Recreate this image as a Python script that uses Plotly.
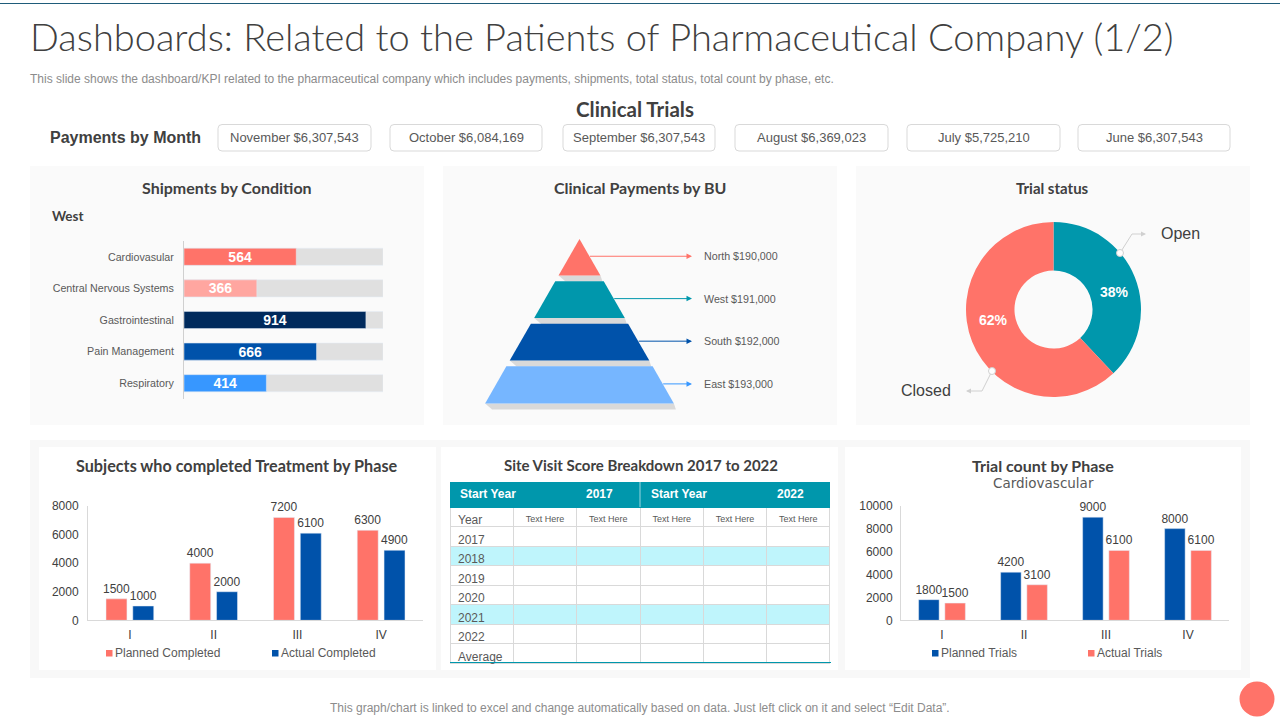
import plotly.graph_objects as go

W, H = 1280, 720

# ---------- data ----------
TITLE = "Dashboards: Related to the Patients of Pharmaceutical Company (1/2)"
SUBTITLE = "This slide shows the dashboard/KPI related to the pharmaceutical company which includes payments, shipments, total status, total count by phase, etc."
FOOTER = "This graph/chart is linked to excel and change automatically based on data. Just left click on it and select “Edit Data”."
pay_months = ["November", "October", "September", "August", "July", "June"]
pay_values = ["$6,307,543", "$6,084,169", "$6,307,543", "$6,369,023", "$5,725,210", "$6,307,543"]

cond_names = ["Cardiovasular", "Central Nervous Systems", "Gastrointestinal", "Pain Management", "Respiratory"]
cond_values = [564, 366, 914, 666, 414]
cond_track = [1000, 1000, 1000, 1000, 1000]
cond_colors = ["#FF7369", "#FFA6A0", "#002A5C", "#0052AA", "#3797FF"]

bu_names = ["North", "West", "South", "East"]
bu_values = [190000, 191000, 192000, 193000]
bu_colors = ["#FF7369", "#0097AC", "#0052AA", "#76B6FF"]
bu_arrow = ["#FF7369", "#0097AC", "#0052AA", "#3797FF"]

status_names = ["Open", "Closed"]
status_values = [38, 62]

phases = ["I", "II", "III", "IV"]
planned_completed = [1500, 4000, 7200, 6300]
actual_completed = [1000, 2000, 6100, 4900]
planned_trials = [1800, 4200, 9000, 8000]
actual_trials = [1500, 3100, 6100, 6100]

table_head = ["Start Year", "2017", "Start Year", "2022"]
table_years = ["Year", "2017", "2018", "2019", "2020", "2021", "2022", "Average"]
table_note = "Text Here"

CORAL, BLUE, TEAL = "#FF7369", "#0052AA", "#0097AC"
INK, GREY = "#404040", "#595959"
BODY = "Liberation Sans"
HEAD = "Lato"


def X(p):
    return p / W


def Y(p):
    return 1 - p / H


shapes, notes = [], []


def box(x0, y0, x1, y1, color, line=None):
    shapes.append(dict(type="rect", xref="paper", yref="paper", x0=X(x0), x1=X(x1), y0=Y(y0), y1=Y(y1),
                       fillcolor=color, line=dict(width=1 if line else 0, color=line or color), layer="below"))


def label(x, y, text, size=12, color=INK, anchor="center", font=BODY, bold=False, weight=None):
    f = dict(size=size, color=color, family=font)
    if bold:
        f["weight"] = "bold"
    if weight:
        f["weight"] = weight
    if anchor == "left":
        x -= 2
    notes.append(dict(x=X(x), y=Y(y), xref="paper", yref="paper", text=text, showarrow=False,
                      xanchor=anchor, yanchor="middle", font=f))


def rounded(x0, y0, x1, y1, r=4):
    a, b, c, d = X(x0), X(x1), Y(y0), Y(y1)
    rx, ry = r / W, r / H
    p = (f"M{a+rx},{c} L{b-rx},{c} Q{b},{c} {b},{c-ry} L{b},{d+ry} Q{b},{d} {b-rx},{d} "
         f"L{a+rx},{d} Q{a},{d} {a},{d+ry} L{a},{c-ry} Q{a},{c} {a+rx},{c} Z")
    shapes.append(dict(type="path", path=p, xref="paper", yref="paper", fillcolor="#FFFFFF",
                       line=dict(width=1, color="#D9D9D9"), layer="below"))


def polyline(pts, color="#D0D0D0"):
    p = "M" + " L".join(f"{X(a)},{Y(b)}" for a, b in pts)
    shapes.append(dict(type="path", path=p, xref="paper", yref="paper", line=dict(width=1, color=color), layer="above"))


def arrow_end(x, y, dx, color="#D0D0D0"):
    notes.append(dict(x=X(x), y=Y(y), xref="paper", yref="paper", ax=dx, ay=0, axref="pixel", ayref="pixel",
                      text="", showarrow=True, arrowhead=2, arrowsize=1, arrowwidth=1, arrowcolor=color))


def dot(x, y, r=3.5):
    shapes.append(dict(type="circle", xref="paper", yref="paper", x0=X(x - r), x1=X(x + r), y0=Y(y + r), y1=Y(y - r),
                       fillcolor="#FFFFFF", line=dict(width=1, color="#D0D0D0"), layer="above"))


fig = go.Figure()

# ---------- page furniture ----------
shapes.append(dict(type="line", xref="paper", yref="paper", x0=X(0), x1=X(1280), y0=Y(3.5), y1=Y(3.5),
                   line=dict(color="#1F5C7A", width=1), layer="below"))
for x0 in (30, 443, 856):
    box(x0, 166, x0 + 394, 425, "#FAFAFA")
box(30, 440, 1250, 678, "#F8F8F8")
for x0, x1 in ((39, 436), (441, 838), (845, 1241)):
    box(x0, 447, x1, 670, "#FFFFFF")

label(30, 36, TITLE, size=38, color=INK, anchor="left", font=HEAD, weight=300)
label(30, 79, SUBTITLE, size=12, color="#8C8C8C", anchor="left")
label(635, 108.5, "Clinical Trials", size=20.5, color=INK, font=HEAD, weight=700)
label(50, 137, "Payments by Month", size=16, color=INK, anchor="left", bold=True)
pay_x = [(218, 371), (390, 542), (563, 715), (735, 888), (907, 1060), (1078, 1230)]
for (a, b), m, v in zip(pay_x, pay_months, pay_values):
    rounded(a, 124.5, b, 151)
    label((a + b) / 2, 137, f"{m} {v}", size=13, color=GREY)

for cx, y, t, s in ((227, 188, "Shipments by Condition", 16), (640, 188, "Clinical Payments by BU", 16),
                    (1052, 188, "Trial status", 15), (237, 465, "Subjects who completed Treatment by Phase", 16.2),
                    (641, 465, "Site Visit Score Breakdown 2017 to 2022", 15), (1043, 465, "Trial count by Phase", 16)):
    label(cx, y, t, size=s, color=INK, font=HEAD, weight=700)
label(52, 216.5, "West", size=13.5, color=INK, anchor="left", font=HEAD, weight=700)
label(1043, 483, "Cardiovascular", size=13.5, color=GREY, font="DejaVu Sans")
label(640, 708, FOOTER, size=12, color="#8C8C8C")
shapes.append(dict(type="circle", xref="paper", yref="paper", x0=X(1239.5), x1=X(1274.5), y0=Y(716.5), y1=Y(681.5),
                   fillcolor=CORAL, line=dict(width=0), layer="below"))

# ---------- shipments by condition ----------
fig.add_trace(go.Bar(y=cond_names, x=cond_track, orientation="h", width=0.54, marker=dict(color="#E0E0E0"),
                     xaxis="x", yaxis="y", hoverinfo="skip", showlegend=False))
fig.add_trace(go.Bar(y=cond_names, x=cond_values, orientation="h", width=0.54, marker=dict(color=cond_colors),
                     text=cond_values, textposition="inside", insidetextanchor="middle", textangle=0,
                     constraintext="none",
                     textfont=dict(color="#FFFFFF", size=14, family=BODY, weight="bold"),
                     xaxis="x", yaxis="y", showlegend=False))

# ---------- pyramid ----------
U = 36.5 / 190000            # pixels per dollar
GAP = 30000                  # gap between layers, in dollars
SLOPE = 0.574
APEX_X, APEX_Y = 579.5, 239
depth, layers = 0, []
for v in bu_values:
    layers.append((depth, depth + v))
    depth += v + GAP
for top, bot in layers:
    a = bot * SLOPE
    fig.add_trace(go.Scatter(x=[-a, a, a + 2 / U, -a + 7 / U, -a], y=[bot, bot, bot + 6 / U, bot + 6 / U, bot],
                             mode="lines", fill="toself", fillcolor="#D9D9D9", line=dict(width=0),
                             xaxis="x2", yaxis="y2", hoverinfo="skip", showlegend=False))
for (top, bot), c, n, v, ac in zip(layers, bu_colors, bu_names, bu_values, bu_arrow):
    a, b = top * SLOPE, bot * SLOPE
    fig.add_trace(go.Scatter(x=[-a, a, b, -b, -a], y=[top, top, bot, bot, top], mode="lines", fill="toself",
                             fillcolor=c, line=dict(width=0), xaxis="x2", yaxis="y2", name=n, showlegend=False))
    mid = (top + bot) / 2 - 1 / U
    end = 112.5 / U
    notes.append(dict(x=end, y=mid, xref="x2", yref="y2", ax=mid * SLOPE - 1 / U, ay=mid, axref="x2", ayref="y2",
                      text="", showarrow=True, arrowhead=2, arrowsize=1.1, arrowwidth=1, arrowcolor=ac))
    notes.append(dict(x=122.5 / U, y=mid, xref="x2", yref="y2", text=f"{n} ${v:,}", showarrow=False, xanchor="left",
                      yanchor="middle", font=dict(size=10.7, color=GREY, family=BODY)))

# ---------- donut ----------
fig.add_trace(go.Pie(labels=status_names, values=status_values, hole=0.446, sort=False, direction="clockwise",
                     rotation=0, marker=dict(colors=[TEAL, CORAL], line=dict(width=0)), textinfo="none",
                     domain=dict(x=[X(966), X(1141)], y=[Y(397), Y(222)]), showlegend=False))
label(1114, 292, f"{status_values[0]}%", size=14, color="#FFFFFF", bold=True)
label(993, 320, f"{status_values[1]}%", size=14, color="#FFFFFF", bold=True)
polyline([(1120, 253), (1132, 234), (1142, 234)])
arrow_end(1146, 234, -6)
polyline([(992, 371), (982, 391), (970, 391)])
arrow_end(966, 391, 6)
dot(1120, 253)
dot(992, 371)
label(1161, 233.5, status_names[0], size=16, color=INK, anchor="left")
label(901, 391, status_names[1], size=16, color=INK, anchor="left")

# ---------- grouped bars ----------
tf = dict(size=12, color=INK, family=BODY)
for name, vals, col, ax in (("Planned Completed", planned_completed, CORAL, "3"),
                            ("Actual Completed", actual_completed, BLUE, "3"),
                            ("Planned Trials", planned_trials, BLUE, "4"),
                            ("Actual Trials", actual_trials, CORAL, "4")):
    fig.add_trace(go.Bar(x=phases, y=vals, name=name, marker=dict(color=col), text=vals, textposition="outside",
                         constraintext="none", textfont=tf, cliponaxis=False, xaxis="x" + ax, yaxis="y" + ax,
                         showlegend=False))


def swatch(x, y, col):
    shapes.append(dict(type="rect", xref="paper", yref="paper", x0=X(x), x1=X(x + 6.5), y0=Y(y + 3.5), y1=Y(y - 3),
                       fillcolor=col, line=dict(width=0), layer="above"))


for x, tx, t, c in ((106, 115, "Planned Completed", CORAL), (272, 281, "Actual Completed", BLUE),
                    (932, 941, "Planned Trials", BLUE), (1088, 1097, "Actual Trials", CORAL)):
    swatch(x, 653, c)
    label(tx, 653, t, size=12, color=GREY, anchor="left")

# ---------- table ----------
n = len(table_years)
stripe = ["#FFFFFF", "#FFFFFF", "#BFF5FC", "#FFFFFF", "#FFFFFF", "#BFF5FC", "#FFFFFF", "#FFFFFF"]
cols = [table_years] + [[table_note] + [""] * (n - 1) for _ in range(5)]
fig.add_trace(go.Table(
    domain=dict(x=[X(450), X(830)], y=[Y(664), Y(482)]),
    columnwidth=[1, 1, 1, 1, 1, 1],
    header=dict(values=[""] * 6, height=25, fill=dict(color=TEAL), line=dict(color=TEAL, width=1)),
    cells=dict(values=cols, height=19.5, align=["left", "center", "center", "center", "center", "center"],
               fill=dict(color=[stripe] * 6), line=dict(color="#D9D9D9", width=1),
               font=dict(color=GREY, family=BODY, size=[12, 9, 9, 9, 9, 9]))))
for tx, t in zip((460, 586, 651, 777), table_head):
    label(tx, 494, t, size=12, color="#FFFFFF", anchor="left", bold=True)
shapes.append(dict(type="line", xref="paper", yref="paper", x0=X(450), x1=X(831), y0=Y(662.5), y1=Y(662.5),
                   line=dict(color=TEAL, width=1), layer="above"))
shapes.append(dict(type="line", xref="paper", yref="paper", x0=X(640), x1=X(640), y0=Y(482), y1=Y(507),
                   line=dict(color="#9AD6DF", width=1), layer="above"))

# ---------- layout ----------
tick = dict(size=12, color=INK, family=BODY)
fig.update_layout(
    width=W, height=H, margin=dict(l=0, r=0, t=0, b=0), paper_bgcolor="#FFFFFF", plot_bgcolor="rgba(0,0,0,0)",
    autosize=False, showlegend=False, barmode="overlay",
    shapes=shapes, annotations=notes,
    # shipments
    xaxis=dict(domain=[X(184), X(383)], range=[0, 1000], anchor="y", visible=False, fixedrange=True),
    yaxis=dict(domain=[Y(399), Y(241)], anchor="x", autorange="reversed", categoryorder="array", categoryarray=cond_names,
               showline=True, linecolor="#D0D0D0", linewidth=1, ticks="", ticklabelstandoff=7,
               tickfont=dict(size=10.7, color=GREY, family=BODY), fixedrange=True),
    # pyramid
    xaxis2=dict(domain=[X(443), X(837)], range=[(443 - APEX_X) / U, (837 - APEX_X) / U], anchor="y2", visible=False),
    yaxis2=dict(domain=[Y(420), Y(225)], range=[(420 - APEX_Y) / U, (225 - APEX_Y) / U], anchor="x2", visible=False),
    # subjects
    xaxis3=dict(domain=[X(88), X(423)], anchor="y3", showline=True, linecolor="#D9D9D9", ticks="", tickfont=tick, ticklabelstandoff=3),
    yaxis3=dict(domain=[Y(620.3), Y(506)], range=[0, 8000], dtick=2000, anchor="x3", showline=True, linecolor="#D9D9D9",
                ticks="", tickfont=tick, tickformat="d", ticklabelstandoff=6),
    # trials
    xaxis4=dict(domain=[X(901), X(1229)], anchor="y4", showline=True, linecolor="#D9D9D9", ticks="", tickfont=tick, ticklabelstandoff=3),
    yaxis4=dict(domain=[Y(620.3), Y(505.7)], range=[0, 10000], dtick=2000, anchor="x4", showline=True, linecolor="#D9D9D9",
                ticks="", tickfont=tick, tickformat="d", ticklabelstandoff=5),
)
# grouped traces on an overlay layout: offset each pair explicitly
for tr in fig.data:
    if tr.type == "bar" and tr.xaxis in ("x3", "x4"):
        first = tr.name.startswith("Planned")
        tr.update(width=0.25, offset=-0.285 if first else 0.035)

fig.update_xaxes(showgrid=False, zeroline=False, automargin=False)
fig.update_yaxes(showgrid=False, zeroline=False, automargin=False)

fig.write_html("out.html", config=dict(displayModeBar=False),
               post_script="document.body.style.margin='0';document.documentElement.style.overflow='hidden';")
